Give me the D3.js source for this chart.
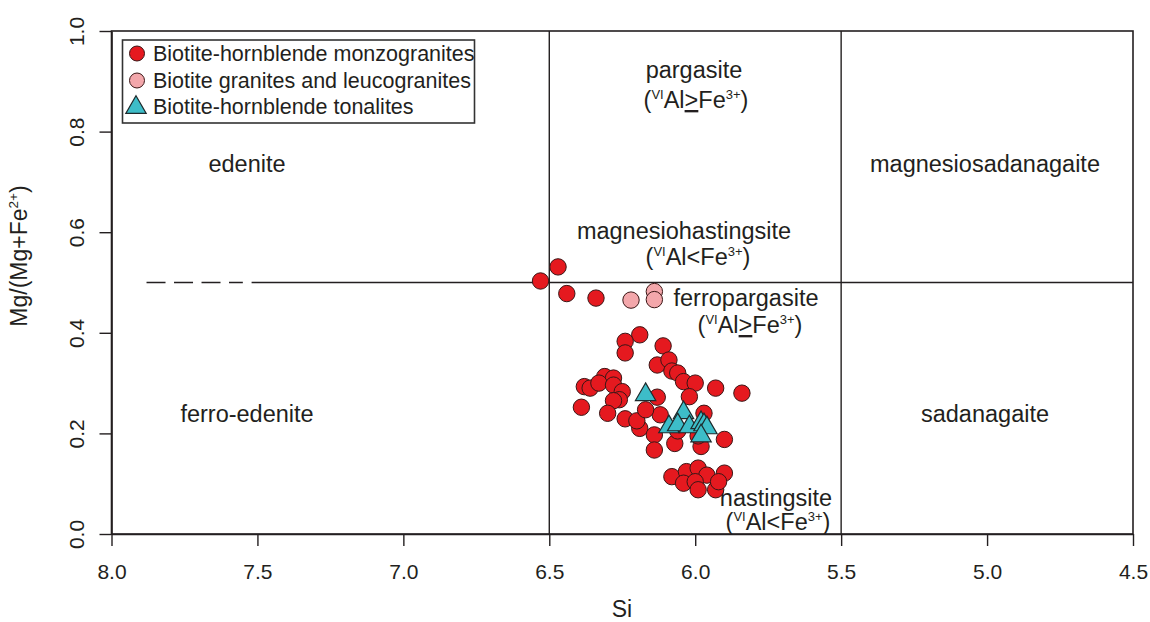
<!DOCTYPE html>
<html><head><meta charset="utf-8">
<script src="https://cdn.jsdelivr.net/npm/d3@7"></script>
<style>
body{margin:0;background:#fff;}
svg text{font-family:"Liberation Sans",Arial,sans-serif;fill:#231f20;}
</style></head>
<body><svg id="chart" width="1150" height="622"></svg>
<script>
// ---- data ----
const xTicks = [8.0, 7.5, 7.0, 6.5, 6.0, 5.5, 5.0, 4.5];
const yTicks = [0.0, 0.2, 0.4, 0.6, 0.8, 1.0];
const seriesNames = ["Biotite-hornblende monzogranites", "Biotite granites and leucogranites", "Biotite-hornblende tonalites"];
// [Si, Mg/(Mg+Fe2+)]
const monzogranites = [
  [6.53,0.503],[6.47,0.531],[6.44,0.478],[6.34,0.469],
  [6.19,0.396],[6.24,0.383],[6.24,0.360],[6.11,0.374],[6.13,0.336],[6.09,0.346],[6.08,0.324],[6.06,0.320],
  [6.04,0.303],[6.00,0.300],[6.02,0.273],[5.93,0.290],[5.84,0.280],
  [6.31,0.313],[6.28,0.310],[6.38,0.293],[6.36,0.290],[6.33,0.300],[6.28,0.296],[6.25,0.283],[6.26,0.267],
  [6.28,0.265],[6.39,0.252],[6.30,0.240],[6.24,0.229],[6.19,0.210],[6.14,0.197],[6.14,0.167],[6.13,0.272],
  [6.12,0.237],[6.07,0.180],[5.98,0.174],[5.90,0.188],[5.97,0.240],[6.20,0.225],[6.17,0.247],[6.06,0.205],[5.99,0.195],
  [6.08,0.114],[6.03,0.124],[5.99,0.131],[5.96,0.117],[5.90,0.121],[6.04,0.101],[6.00,0.104],[5.99,0.088],
  [5.93,0.088],[5.92,0.104]
];
const granites = [[6.22,0.465],[6.14,0.482],[6.14,0.466]];
const tonalites = [[6.17,0.277],[6.04,0.241],[6.09,0.213],[6.06,0.217],[6.02,0.213],[5.98,0.221],[5.97,0.217],[5.96,0.211],[5.98,0.195]];
// field boundaries
const siBounds = [6.5, 5.5];
const mgBound = 0.5;

const svg = d3.select("#chart");
const x = d3.scaleLinear().domain([8.0, 4.5]).range([111.5, 1133]);
const y = d3.scaleLinear().domain([0, 1]).range([534, 31]);
const ink = "#231f20";

// frame
svg.append("rect").attr("x", x(8)).attr("y", y(1)).attr("width", x(4.5) - x(8)).attr("height", y(0) - y(1))
  .attr("fill", "none").attr("stroke", ink).attr("stroke-width", 1.6);

// field lines
siBounds.forEach(s => svg.append("line").attr("x1", x(s)).attr("x2", x(s)).attr("y1", y(0)).attr("y2", y(1))
  .attr("stroke", ink).attr("stroke-width", 1.4));
svg.append("line").attr("x1", x(7.52)).attr("x2", x(4.5)).attr("y1", y(mgBound)).attr("y2", y(mgBound))
  .attr("stroke", ink).attr("stroke-width", 1.4);
svg.append("line").attr("x1", x(7.88)).attr("x2", x(7.55)).attr("y1", y(mgBound)).attr("y2", y(mgBound))
  .attr("stroke", ink).attr("stroke-width", 1.4).attr("stroke-dasharray", "19,8.5");

// axes
const gx = svg.append("g").attr("transform", `translate(0,${y(0)})`)
  .call(d3.axisBottom(x).tickValues(xTicks).tickFormat(d3.format(".1f")).tickSize(12).tickSizeOuter(0));
gx.select(".domain").attr("stroke", ink).attr("stroke-width", 1.6);
gx.selectAll(".tick line").attr("stroke", ink).attr("stroke-width", 1.4);
gx.selectAll(".tick text").attr("y", 38).attr("dy", "0.32em").style("font-size", "21px").attr("fill", ink);

const gy = svg.append("g").attr("transform", `translate(${x(8)},0)`)
  .call(d3.axisLeft(y).tickValues(yTicks).tickFormat(d3.format(".1f")).tickSize(12).tickSizeOuter(0));
gy.select(".domain").attr("stroke", ink).attr("stroke-width", 1.6);
gy.selectAll(".tick line").attr("stroke", ink).attr("stroke-width", 1.4);
gy.selectAll(".tick text").attr("x", null).attr("dy", null)
  .attr("text-anchor", "middle").attr("transform", "translate(-28,0) rotate(-90)")
  .style("font-size", "21px").attr("fill", ink);

// axis titles
svg.append("text").attr("x", 622).attr("y", 617).attr("text-anchor", "middle").style("font-size", "23px").text("Si");
const yt = svg.append("text").attr("transform", "translate(27,256) rotate(-90)").attr("text-anchor", "middle").style("font-size", "23px");
yt.append("tspan").text("Mg/(Mg+Fe");
yt.append("tspan").attr("dy", -9).style("font-size", "13.5px").text("2+");
yt.append("tspan").attr("dy", 9).text(")");

// field labels
function plain(t, cx, by, fs) {
  svg.append("text").attr("x", cx).attr("y", by).attr("text-anchor", "middle").style("font-size", fs + "px").text(t);
}
function cond(cx, by, ge, fs) {
  const t = svg.append("text").attr("x", cx).attr("y", by).attr("text-anchor", "middle").style("font-size", fs + "px");
  t.append("tspan").text("(");
  t.append("tspan").attr("dy", -9).style("font-size", "13px").text("VI");
  t.append("tspan").attr("dy", 9).text("Al");
  t.append("tspan").style("text-decoration", ge ? "underline" : "none").text(ge ? ">" : "<");
  t.append("tspan").text("Fe");
  t.append("tspan").attr("dy", -9).style("font-size", "13px").text("3+");
  t.append("tspan").attr("dy", 9).text(")");
}
const fs = 23.5;
plain("edenite", 247, 172, fs);
plain("ferro-edenite", 247, 422, fs);
plain("pargasite", 694, 78, fs);
cond(696, 108, true, fs);
plain("magnesiohastingsite", 684, 239, fs);
cond(698, 265, false, fs);
plain("ferropargasite", 746, 306, fs);
cond(750, 333, true, fs);
plain("magnesiosadanagaite", 985, 172, fs);
plain("sadanagaite", 985, 422, fs);
plain("hastingsite", 776, 506, fs);
cond(778, 530, false, fs);

// points
const red = "#e5191f", pink = "#f3a7ab", teal = "#3dbdc8", edge = "#3a1616";
const tri = d3.symbol().type(d3.symbolTriangle).size(180);
svg.append("g").selectAll("circle").data(monzogranites).join("circle")
  .attr("cx", d => x(d[0])).attr("cy", d => y(d[1])).attr("r", 8.2)
  .attr("fill", red).attr("stroke", edge).attr("stroke-width", 1);
svg.append("g").selectAll("circle").data(granites).join("circle")
  .attr("cx", d => x(d[0])).attr("cy", d => y(d[1])).attr("r", 8.2)
  .attr("fill", pink).attr("stroke", edge).attr("stroke-width", 1);
svg.append("g").selectAll("path").data(tonalites).join("path")
  .attr("d", tri).attr("transform", d => `translate(${x(d[0])},${y(d[1])})`)
  .attr("fill", teal).attr("stroke", "#1e2a2c").attr("stroke-width", 1.2);

// legend
const lg = svg.append("g");
lg.append("rect").attr("x", 122.5).attr("y", 40).attr("width", 352).attr("height", 83)
  .attr("fill", "#fff").attr("stroke", "#333").attr("stroke-width", 1.6);
const rows = [53.5, 80.5, 106.5];
const fills = [red, pink, teal];
seriesNames.forEach((n, i) => {
  if (i < 2) lg.append("circle").attr("cx", 137).attr("cy", rows[i]).attr("r", 7.5).attr("fill", fills[i]).attr("stroke", edge);
  else lg.append("path").attr("d", tri).attr("transform", `translate(136,${rows[i]+1})`).attr("fill", teal).attr("stroke", "#1e2a2c").attr("stroke-width", 1.2);
  lg.append("text").attr("x", 153).attr("y", rows[i] + 7).style("font-size", "21.5px").text(n);
});
</script></body></html>
